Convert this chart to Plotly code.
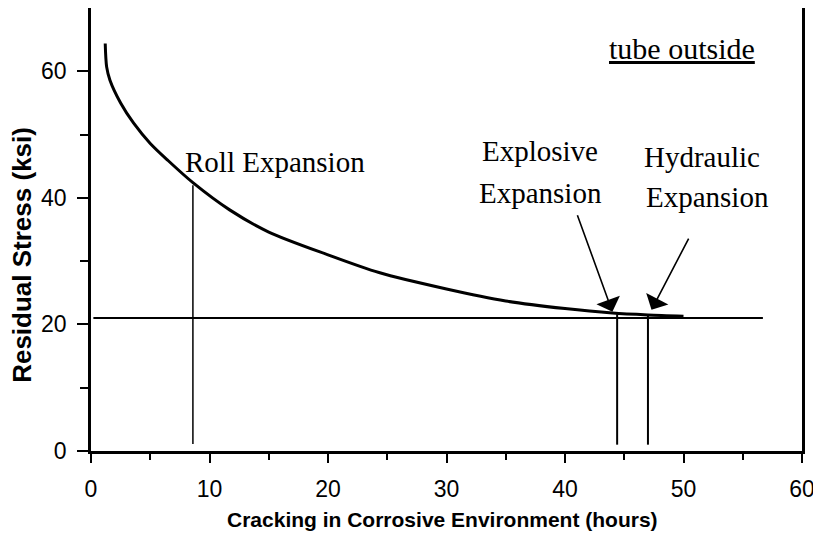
import plotly.graph_objects as go

# Curve: residual stress vs cracking time
curve_hours = [1.2, 1.32, 1.6, 2.5, 3.6, 5.0, 6.5, 8.6, 11.7, 15.0, 20.0, 24.3, 30.0, 35.0, 40.0, 44.0, 47.0, 50.0]
curve_stress = [64.4, 60.7, 58.6, 55.0, 51.8, 48.6, 45.9, 42.4, 38.1, 34.6, 31.0, 28.2, 25.6, 23.7, 22.5, 21.8, 21.5, 21.3]

# Threshold horizontal line
threshold_hours = [0.2, 56.7]
threshold_stress = [21.0, 21.0]

# Vertical markers for expansion methods
roll_hours = [8.6, 8.6]
roll_stress = [1.1, 42.0]
explosive_hours = [44.4, 44.4]
explosive_stress = [1.0, 21.6]
hydraulic_hours = [47.0, 47.0]
hydraulic_stress = [1.0, 21.4]

x_ticks = [0, 10, 20, 30, 40, 50, 60]
y_ticks = [0, 20, 40, 60]

x_title = "Cracking in Corrosive Environment (hours)"
y_title = "Residual Stress (ksi)"

fig = go.Figure()
fig.add_trace(go.Scatter(x=curve_hours, y=curve_stress, mode="lines",
                         line=dict(color="black", width=3, shape="spline", smoothing=0.8), showlegend=False))
fig.add_trace(go.Scatter(x=threshold_hours, y=threshold_stress, mode="lines",
                         line=dict(color="black", width=2), showlegend=False))
fig.add_trace(go.Scatter(x=roll_hours, y=roll_stress, mode="lines",
                         line=dict(color="black", width=1.5), showlegend=False))
fig.add_trace(go.Scatter(x=explosive_hours, y=explosive_stress, mode="lines",
                         line=dict(color="black", width=2), showlegend=False))
fig.add_trace(go.Scatter(x=hydraulic_hours, y=hydraulic_stress, mode="lines",
                         line=dict(color="black", width=2), showlegend=False))

serif = "Liberation Serif"
tfont = dict(family=serif, size=29, color="black")
fig.add_annotation(x=7.76, y=45.6, text="Roll Expansion", showarrow=False, xanchor="left", font=tfont)
fig.add_annotation(x=49.9, y=63.6, text="<u>tube outside</u>", showarrow=False,
                   font=dict(family=serif, size=30, color="black"))
fig.add_annotation(x=37.9, y=47.4, text="Explosive", showarrow=False, font=tfont)
fig.add_annotation(x=37.9, y=40.7, text="Expansion", showarrow=False, font=tfont)
fig.add_annotation(x=51.6, y=46.4, text="Hydraulic", showarrow=False, font=tfont)
fig.add_annotation(x=52.0, y=40.1, text="Expansion", showarrow=False, font=tfont)
fig.add_annotation(x=44.0, y=22.0, ax=41.0, ay=37.5, axref="x", ayref="y", text="",
                   showarrow=True, arrowhead=1, arrowsize=2.6, arrowwidth=1.6, arrowcolor="black")
fig.add_annotation(x=47.3, y=22.3, ax=50.5, ay=33.8, axref="x", ayref="y", text="",
                   showarrow=True, arrowhead=1, arrowsize=2.6, arrowwidth=1.6, arrowcolor="black")

# Axis titles
fig.add_annotation(xref="paper", yref="paper", x=0.495, y=-0.1535, xanchor="center", yanchor="middle",
                   text="<b>" + x_title + "</b>",
                   showarrow=False, font=dict(family="Liberation Sans", size=21, color="black"))
fig.add_annotation(xref="paper", yref="y", x=-0.097, y=31.0, xanchor="center", yanchor="middle",
                   text="<b>" + y_title + "</b>",
                   textangle=-90, showarrow=False, font=dict(family="Liberation Sans", size=26, color="black"))

axis_font = dict(family="Liberation Sans", size=23, color="black")
fig.update_layout(
    width=813, height=537,
    margin=dict(l=83, r=19, t=0, b=94),
    paper_bgcolor="white", plot_bgcolor="white",
    xaxis=dict(range=[0, 60], tickvals=x_ticks, ticks="outside", ticklen=9, tickwidth=1.5,
               tickcolor="black", showline=True, linewidth=2.5, linecolor="black", mirror=True,
               showgrid=False, zeroline=False, tickfont=axis_font, automargin=False,
               ticklabelstandoff=7,
               minor=dict(tickvals=[5, 15, 25, 35, 45, 55], ticks="outside", ticklen=6, tickcolor="black")),
    yaxis=dict(range=[0, 70], tickvals=y_ticks, ticks="outside", ticklen=11, tickwidth=1.5,
               tickcolor="black", showline=True, linewidth=2.5, linecolor="black", mirror=True,
               showgrid=False, zeroline=False, tickfont=axis_font, automargin=False,
               ticklabelstandoff=6,
               minor=dict(tickvals=[10, 30, 50], ticks="outside", ticklen=8, tickcolor="black")),
)

fig.write_html("out.html")
